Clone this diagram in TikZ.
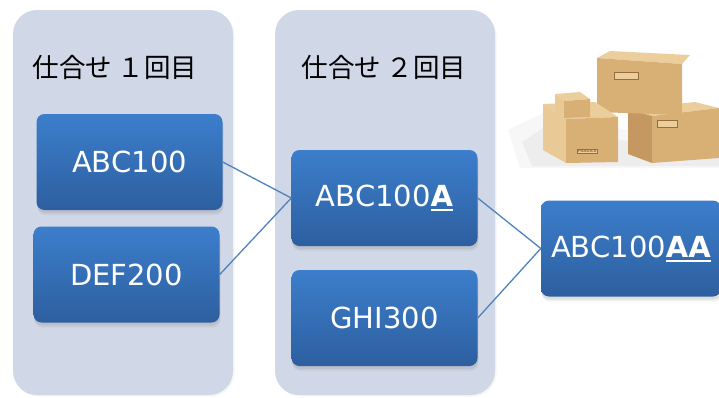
\documentclass[tikz,border=0pt]{standalone}
\usepackage{fontspec}
\setmainfont{DejaVu Sans}
\newfontfamily\jpfont{Noto Sans CJK JP}
\usetikzlibrary{shadows}

\definecolor{panelgray}{RGB}{208,215,230}
\definecolor{itemtop}{RGB}{60,126,204}
\definecolor{itembot}{RGB}{45,95,159}
\definecolor{linkblue}{RGB}{79,129,189}
\definecolor{cardlight}{RGB}{236,206,156}
\definecolor{cardmid}{RGB}{216,176,118}
\definecolor{carddark}{RGB}{196,152,96}
\definecolor{cardedge}{RGB}{150,110,60}

% bold part number suffix with a thick underline
\newcommand\suffixul[1]{\setbox0\hbox{\textbf{#1}}\leavevmode
  \rlap{\vrule height -2.5pt depth 4.5pt width \wd0}\box0}

\tikzset{
  panel/.style={fill=panelgray, rounded corners=24pt,
    drop shadow={shadow xshift=1.5pt, shadow yshift=-1.5pt, opacity=.08}},
  item/.style={rounded corners=8pt, top color=itemtop, bottom color=itembot,
    text=white, font=\fontsize{29}{31}\selectfont, inner sep=0pt,
    minimum width=186pt, minimum height=96pt,
    drop shadow={shadow xshift=.5pt, shadow yshift=-3pt, opacity=.18},
    drop shadow={shadow xshift=1pt, shadow yshift=-5pt, opacity=.1}},
  title/.style={font=\jpfont\fontsize{26.5}{28}\selectfont},
  link/.style={draw=linkblue, line width=1.3pt},
  labelbox/.style={draw=cardedge, line width=.5pt, fill=cardlight},
}

\begin{document}
\begin{tikzpicture}[x=1pt,y=-1pt]
	\useasboundingbox (0,0) rectangle (719,397);

	% the two rounds
	\fill[panel] (13,10) rectangle (233,395);
	\fill[panel] (275,10) rectangle (495,395);
	\node[title] (round1) at (115,67) {仕合せ １回目};
	\node[title] (round2) at (384,67) {仕合せ ２回目};

	% part numbers
	\node[item] (abc) at (129.5,162) {ABC100};
	\node[item] (def) at (126.5,274.5) {DEF200};
	\node[item] (abca) at (384.5,198) {ABC100\suffixul{A}};
	\node[item] (ghi) at (384.5,318) {GHI300};
	\node[item, minimum width=180pt] (abcaa) at (631,248.5) {ABC100\suffixul{AA}};

	\draw[link] (abc.east) -- (abca.west);
	\draw[link] (def.east) -- (abca.west);
	\draw[link] (abca.east) -- (abcaa.west);
	\draw[link] (ghi.east) -- (abcaa.west);

	% stacked cardboard boxes
	\fill[black, opacity=.03] (508,130) -- (545,112) -- (719,150) -- (719,168) -- (520,168) -- cycle;
	\fill[black, opacity=.04] (522,142) -- (546,126) -- (719,158) -- (719,166) -- (532,166) -- cycle;
	% right box
	\fill[cardlight] (628,109) -- (695,102) -- (719,108) -- (652,116) -- cycle;
	\fill[carddark] (628,109) -- (652,116) -- (652,163) -- (628,154) -- cycle;
	\fill[cardmid] (652,116) -- (719,108) -- (719,158) -- (652,163) -- cycle;
	\draw[labelbox] (657,120) rectangle (677,127);
	% top box
	\fill[cardlight] (597,58) -- (610,51) -- (690,55) -- (682,64) -- cycle;
	\fill[cardmid] (597,58) -- (682,64) -- (682,115) -- (597,112) -- cycle;
	\draw[labelbox] (614,72) rectangle (638,79);
	% left box
	\fill[cardlight] (543,104) -- (595,102) -- (618,117) -- (566,119) -- cycle;
	\fill[cardlight!85!cardmid] (543,104) -- (566,119) -- (566,163) -- (543,150) -- cycle;
	\fill[cardmid] (566,119) -- (618,117) -- (618,162) -- (566,163) -- cycle;
	\node[labelbox, inner sep=.6pt, font=\fontsize{4}{4}\selectfont\bfseries,
		text=cardedge] (fragile) at (587,151) {FRAGILE};
	% small box
	\fill[cardlight] (555,94) -- (580,92) -- (590,99) -- (564,101) -- cycle;
	\fill[cardlight!85!cardmid] (555,94) -- (564,101) -- (564,118) -- (555,113) -- cycle;
	\fill[cardmid] (564,101) -- (590,99) -- (590,117) -- (564,118) -- cycle;
\end{tikzpicture}
\end{document}
